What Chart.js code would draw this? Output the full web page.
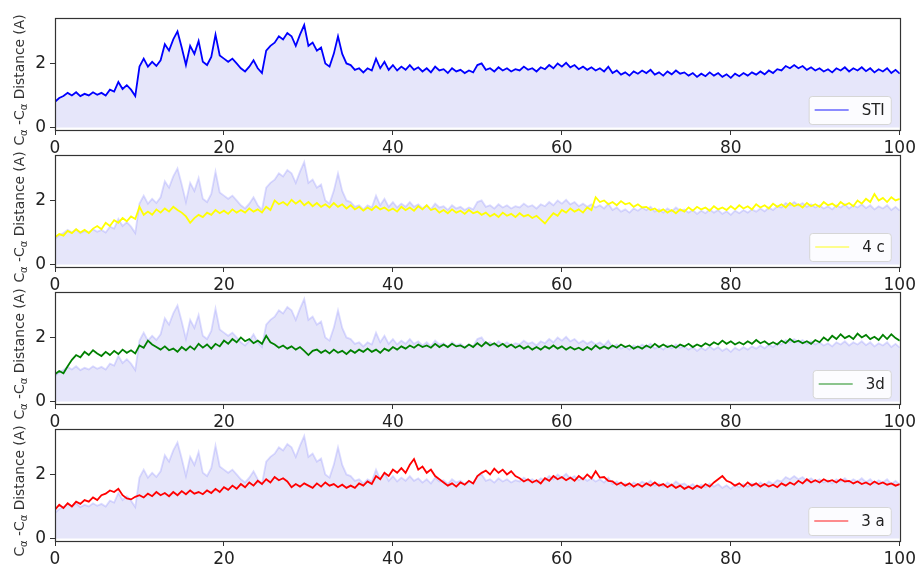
<!DOCTYPE html>
<html><head><meta charset="utf-8">
<script src="https://cdn.jsdelivr.net/npm/chart.js@4"></script>
<style>
html,body{margin:0;padding:0;background:#fff;width:919px;height:571px;overflow:hidden}
.p{position:absolute;left:0;width:919px;height:160px}
</style></head><body>
<div class="p" style="top:0px"><canvas id="c0"></canvas></div>
<div class="p" style="top:137px"><canvas id="c1"></canvas></div>
<div class="p" style="top:274px"><canvas id="c2"></canvas></div>
<div class="p" style="top:411px"><canvas id="c3"></canvas></div>
<script>
// x positions: 0 .. 100 in steps of 0.5
const xStep = 0.5;

const sti = [
0.80,0.92,0.98,1.08,1.00,1.10,0.98,1.05,1.00,1.10,
1.02,1.08,1.00,1.18,1.12,1.42,1.20,1.32,1.18,0.98,
1.90,2.15,1.90,2.05,1.92,2.10,2.60,2.40,2.75,3.00,
2.50,1.95,2.55,2.30,2.70,2.05,1.95,2.20,2.90,2.25,
2.15,2.05,2.15,2.00,1.85,1.75,1.90,2.10,1.85,1.70,
2.40,2.55,2.65,2.85,2.75,2.95,2.85,2.55,2.90,3.20,
2.55,2.65,2.40,2.50,2.00,1.90,2.30,2.85,2.30,2.00,
1.95,1.80,1.85,1.72,1.85,1.78,2.15,1.85,2.05,1.80,
1.95,1.78,1.90,1.80,1.95,1.80,1.88,1.75,1.85,1.72,
1.90,1.78,1.82,1.70,1.85,1.75,1.80,1.70,1.78,1.72,
1.95,2.00,1.80,1.85,1.75,1.88,1.78,1.85,1.75,1.82,
1.78,1.90,1.80,1.85,1.75,1.88,1.82,1.95,1.85,2.00,
1.90,2.02,1.88,1.95,1.82,1.90,1.80,1.88,1.78,1.85,
1.75,1.90,1.70,1.78,1.65,1.72,1.62,1.75,1.68,1.78,
1.70,1.80,1.65,1.72,1.62,1.75,1.66,1.78,1.68,1.72,
1.62,1.70,1.58,1.68,1.60,1.72,1.62,1.70,1.58,1.66,
1.55,1.68,1.60,1.70,1.62,1.72,1.65,1.75,1.66,1.78,
1.70,1.82,1.78,1.92,1.85,1.95,1.85,1.92,1.80,1.88,
1.78,1.85,1.75,1.82,1.72,1.85,1.78,1.88,1.75,1.85,
1.78,1.88,1.76,1.85,1.72,1.82,1.75,1.85,1.70,1.80,
1.68];

const s4c = [
0.85,0.95,0.90,1.05,0.98,1.10,1.00,1.08,0.98,1.12,
1.20,1.10,1.30,1.20,1.38,1.30,1.45,1.35,1.50,1.42,
1.80,1.55,1.65,1.55,1.72,1.62,1.75,1.65,1.80,1.70,
1.62,1.50,1.30,1.45,1.55,1.48,1.62,1.55,1.70,1.60,
1.68,1.58,1.72,1.62,1.70,1.62,1.75,1.65,1.72,1.62,
1.80,1.70,2.00,1.88,1.95,1.85,2.02,1.90,2.00,1.85,
1.95,1.82,1.92,1.80,1.88,1.78,1.92,1.80,1.88,1.75,
1.85,1.72,1.80,1.68,1.78,1.70,1.82,1.72,1.78,1.68,
1.75,1.65,1.80,1.70,1.78,1.68,1.82,1.72,1.85,1.70,
1.75,1.62,1.70,1.60,1.72,1.62,1.68,1.58,1.70,1.60,
1.65,1.55,1.62,1.50,1.58,1.48,1.62,1.52,1.58,1.48,
1.60,1.50,1.55,1.45,1.52,1.40,1.28,1.45,1.60,1.52,
1.70,1.62,1.75,1.65,1.72,1.62,1.78,1.70,2.10,1.95,
2.00,1.88,1.95,1.85,1.98,1.88,1.92,1.80,1.88,1.78,
1.80,1.70,1.75,1.65,1.72,1.62,1.70,1.60,1.72,1.65,
1.78,1.68,1.80,1.72,1.78,1.68,1.82,1.72,1.78,1.70,
1.82,1.72,1.85,1.75,1.82,1.72,1.88,1.78,1.85,1.75,
1.90,1.80,1.88,1.78,1.92,1.82,1.88,1.78,1.92,1.82,
1.88,1.80,1.95,1.85,1.90,1.80,1.95,1.85,1.92,1.82,
2.00,1.90,2.05,1.95,2.20,2.00,2.08,1.95,2.10,2.00,
2.05];

const s3d = [
0.85,0.95,0.88,1.10,1.30,1.45,1.38,1.55,1.45,1.60,
1.50,1.42,1.55,1.45,1.58,1.48,1.62,1.52,1.60,1.50,
1.75,1.68,1.90,1.78,1.70,1.62,1.72,1.60,1.65,1.55,
1.70,1.60,1.72,1.62,1.80,1.68,1.78,1.65,1.80,1.72,
1.90,1.80,1.95,1.85,2.00,1.88,1.95,1.82,1.90,1.80,
2.05,1.85,1.78,1.68,1.75,1.65,1.72,1.62,1.70,1.58,
1.45,1.58,1.62,1.52,1.60,1.50,1.62,1.52,1.58,1.48,
1.60,1.52,1.62,1.55,1.65,1.55,1.62,1.52,1.65,1.58,
1.70,1.62,1.72,1.65,1.75,1.68,1.78,1.70,1.75,1.68,
1.80,1.70,1.78,1.70,1.80,1.72,1.75,1.68,1.78,1.70,
1.82,1.72,1.85,1.75,1.82,1.72,1.80,1.70,1.78,1.68,
1.75,1.65,1.72,1.62,1.70,1.62,1.72,1.65,1.75,1.65,
1.72,1.62,1.70,1.62,1.68,1.60,1.70,1.62,1.75,1.65,
1.72,1.65,1.75,1.68,1.78,1.70,1.75,1.65,1.72,1.65,
1.75,1.68,1.80,1.70,1.78,1.70,1.75,1.68,1.78,1.72,
1.80,1.70,1.78,1.72,1.82,1.75,1.85,1.78,1.90,1.80,
1.88,1.78,1.85,1.78,1.88,1.80,1.92,1.82,1.88,1.78,
1.85,1.78,1.90,1.82,1.95,1.85,1.90,1.82,1.88,1.80,
1.92,1.85,2.00,1.90,2.05,1.95,2.10,1.98,2.05,1.95,
2.12,2.00,2.08,1.95,2.02,1.92,2.08,1.95,2.10,1.98,
1.90];

const s3a = [
0.90,1.05,0.95,1.10,1.00,1.15,1.08,1.20,1.15,1.28,
1.20,1.35,1.40,1.50,1.45,1.55,1.35,1.25,1.22,1.30,
1.35,1.28,1.40,1.32,1.45,1.35,1.42,1.32,1.45,1.35,
1.48,1.38,1.50,1.40,1.45,1.38,1.50,1.42,1.55,1.45,
1.60,1.52,1.65,1.55,1.70,1.60,1.75,1.65,1.80,1.70,
1.85,1.75,1.92,1.82,1.88,1.78,1.60,1.70,1.62,1.72,
1.65,1.58,1.72,1.62,1.75,1.65,1.70,1.60,1.68,1.58,
1.65,1.58,1.72,1.65,1.78,1.70,1.95,1.85,2.05,1.95,
2.15,2.05,2.20,2.05,2.30,2.48,2.15,2.25,2.05,2.15,
1.95,1.85,1.75,1.65,1.72,1.62,1.75,1.68,1.80,1.72,
1.95,2.05,2.12,2.00,2.18,2.05,2.15,2.00,2.10,1.95,
1.88,1.78,1.85,1.75,1.82,1.72,1.88,1.80,1.95,1.85,
1.92,1.82,1.90,1.80,1.95,1.85,2.00,1.88,2.10,1.90,
1.92,1.80,1.78,1.68,1.75,1.65,1.72,1.62,1.70,1.62,
1.72,1.65,1.75,1.65,1.70,1.60,1.68,1.58,1.65,1.55,
1.62,1.55,1.65,1.58,1.70,1.62,1.75,1.85,1.95,1.80,
1.75,1.65,1.72,1.62,1.75,1.65,1.72,1.62,1.70,1.62,
1.68,1.60,1.72,1.65,1.75,1.68,1.80,1.72,1.85,1.75,
1.82,1.75,1.85,1.78,1.82,1.75,1.85,1.78,1.80,1.72,
1.78,1.70,1.75,1.68,1.78,1.70,1.75,1.68,1.72,1.65,
1.70];

const xTicks = [0, 20, 40, 60, 80, 100];
const yTicks = [0, 2];
const seriesNames = ['STI', '4 c', '3d', '3 a'];
const seriesData = [sti, s4c, s3d, s3a];
const seriesColors = ['#0000ff', '#ffff00', '#008000', '#ff0000'];
const titleParts = [['C', false], ['\u03b1', true], [' -C', false], ['\u03b1', true], [' Distance (A)', false]];

const FONT = '"DejaVu Sans", sans-serif';
const toXY = arr => arr.map((v, i) => ({x: i * xStep, y: v}));

const decorPlugin = {
  id: 'decor',
  beforeDraw(chart) {
    const {ctx, chartArea: a} = chart;
    ctx.save();
    ctx.fillStyle = '#ffffff';
    ctx.fillRect(a.left, a.top, a.right - a.left, a.bottom - a.top);
    ctx.restore();
  },
  afterDraw(chart, args, opts) {
    const {ctx, chartArea: a} = chart;
    // frame
    ctx.save();
    ctx.strokeStyle = '#333';
    ctx.lineWidth = 1.2;
    ctx.strokeRect(Math.round(a.left) + 0.5, Math.round(a.top) + 0.5,
                   Math.round(a.right - a.left), Math.round(a.bottom - a.top));
    ctx.restore();
    // y title with subscripts
    ctx.save();
    const big = '13.8px ' + FONT, small = '10px ' + FONT;
    let total = 0;
    const widths = titleParts.map(([t, sub]) => { ctx.font = sub ? small : big; const w = ctx.measureText(t).width; total += w; return w; });
    ctx.translate(24, (a.top + a.bottom) / 2 + 6);
    ctx.rotate(-Math.PI / 2);
    ctx.fillStyle = '#333';
    ctx.textBaseline = 'alphabetic';
    let x = -total / 2;
    titleParts.forEach(([t, sub], i) => {
      ctx.font = sub ? small : big;
      ctx.fillText(t, x, sub ? 3 : 0);
      x += widths[i];
    });
    ctx.restore();
    // legend
    ctx.save();
    const label = opts.label, color = opts.color;
    ctx.font = '15px ' + FONT;
    const tw = ctx.measureText(label).width;
    const h = 28, w = 6 + 34 + 13 + tw + 6;
    const bx = a.right - 9 - w, by = a.bottom - 6 - h;
    ctx.beginPath();
    if (ctx.roundRect) ctx.roundRect(bx + 0.5, by + 0.5, w, h, 3); else ctx.rect(bx + 0.5, by + 0.5, w, h);
    ctx.fillStyle = 'rgba(255,255,255,0.85)';
    ctx.fill();
    ctx.strokeStyle = '#d6d6d6';
    ctx.lineWidth = 1;
    ctx.stroke();
    ctx.beginPath();
    ctx.moveTo(bx + 6, by + h / 2);
    ctx.lineTo(bx + 40, by + h / 2);
    ctx.strokeStyle = color;
    ctx.globalAlpha = 0.6;
    ctx.lineWidth = 1.5;
    ctx.stroke();
    ctx.globalAlpha = 1;
    ctx.fillStyle = '#222';
    ctx.textBaseline = 'middle';
    ctx.fillText(label, bx + 53, by + h / 2 + 1);
    ctx.restore();
  }
};

function makePanel(k) {
  const datasets = [];
  if (k === 0) {
    datasets.push({label: seriesNames[0], data: toXY(sti), borderColor: seriesColors[0],
      backgroundColor: '#e6e6fa', fill: {value: 0}, borderWidth: 1.8, order: 0});
  } else {
    datasets.push({label: 'STI', data: toXY(sti), borderColor: 'rgba(140,140,255,0.3)',
      backgroundColor: '#e6e6fa', fill: {value: 0}, borderWidth: 1.8, order: 1});
    datasets.push({label: seriesNames[k], data: toXY(seriesData[k]), borderColor: seriesColors[k],
      fill: false, borderWidth: 1.8, order: 0});
  }
  new Chart(document.getElementById('c' + k), {
    type: 'line',
    data: {datasets},
    plugins: [decorPlugin],
    options: {
      responsive: true, maintainAspectRatio: false, animation: false,
      devicePixelRatio: 1,
      layout: {padding: {left: 0, right: 17, top: 18, bottom: 0}},
      elements: {point: {radius: 0}, line: {tension: 0}},
      plugins: {legend: {display: false}, tooltip: {enabled: false},
        decor: {label: seriesNames[k], color: seriesColors[k]}},
      scales: {
        x: {type: 'linear', min: 0, max: 100,
          afterBuildTicks: s => { s.ticks = xTicks.map(v => ({value: v})); },
          afterFit: s => { s.height = 30; },
          grid: {display: true, drawOnChartArea: false, drawTicks: true, tickLength: 5, color: '#333'},
          border: {display: false},
          ticks: {font: {family: FONT, size: 17}, color: '#222', padding: 3, maxRotation: 0, autoSkip: false}},
        y: {type: 'linear', min: -0.08, max: 3.42,
          afterBuildTicks: s => { s.ticks = yTicks.map(v => ({value: v})); },
          afterFit: s => { s.width = 55; },
          grid: {display: true, drawOnChartArea: false, drawTicks: true, tickLength: 5, color: '#333'},
          border: {display: false},
          ticks: {font: {family: FONT, size: 17}, color: '#222', padding: 4}}
      }
    }
  });
}
[0, 1, 2, 3].forEach(makePanel);
</script>
</body></html>
